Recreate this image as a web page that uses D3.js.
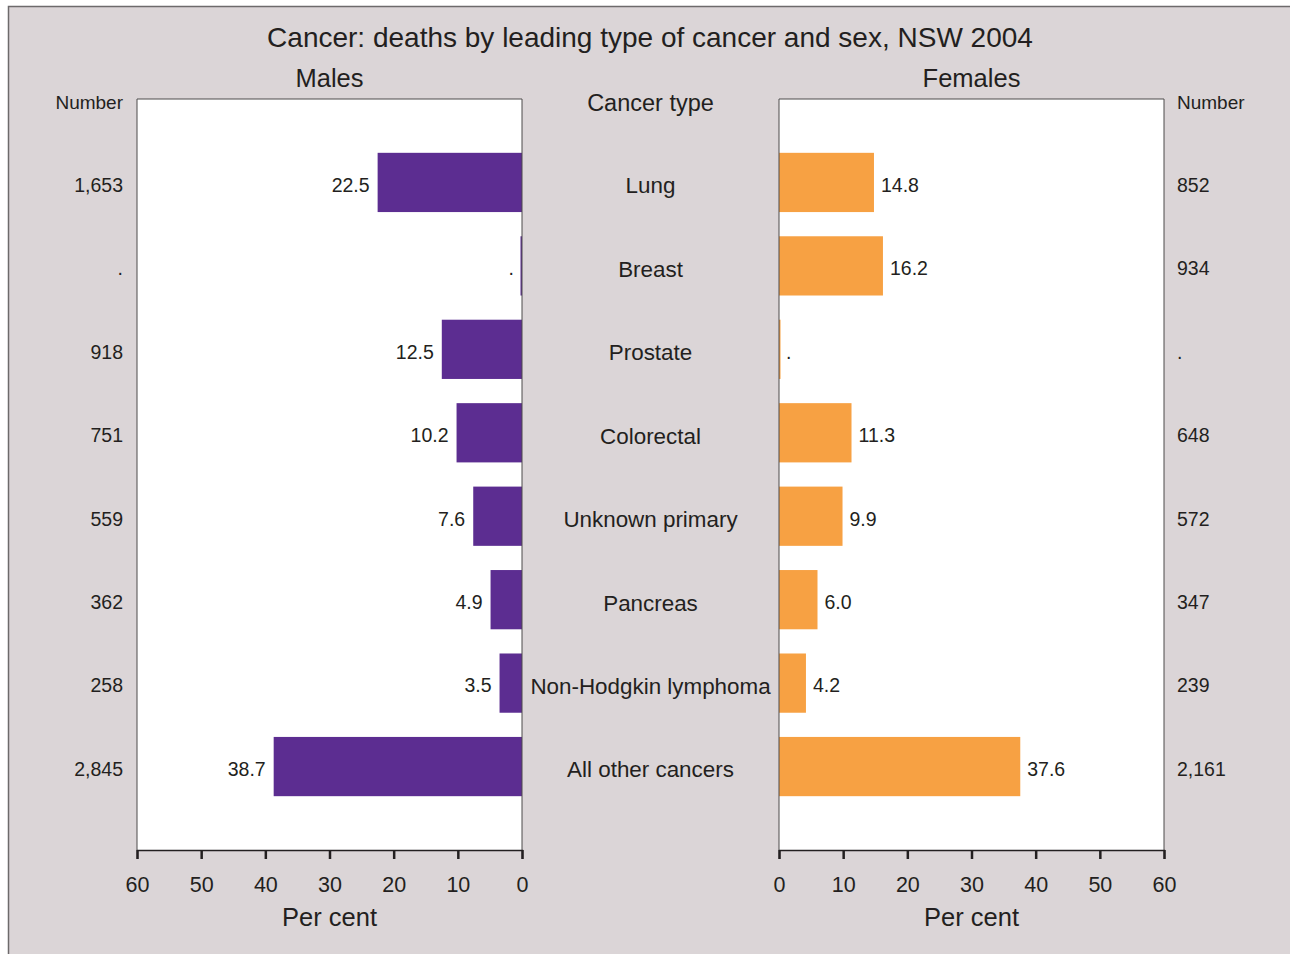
<!DOCTYPE html>
<html>
<head>
<meta charset="utf-8">
<script src="https://cdn.jsdelivr.net/npm/d3@7"></script>
<style>
  html, body { margin: 0; padding: 0; background: #ffffff; }
  svg { display: block; font-family: "Liberation Sans", Arial, Helvetica, sans-serif; }
</style>
</head>
<body>
<svg id="chart" width="1290" height="954"></svg>
<script>
// Leading cancer types, NSW 2004
const categories = ["Lung", "Breast", "Prostate", "Colorectal", "Unknown primary", "Pancreas", "Non-Hodgkin lymphoma", "All other cancers"];
const malePercent = [22.5, null, 12.5, 10.2, 7.6, 4.9, 3.5, 38.7];
const femalePercent = [14.8, 16.2, null, 11.3, 9.9, 6.0, 4.2, 37.6];
const maleNumber = ["1,653", ".", "918", "751", "559", "362", "258", "2,845"];
const femaleNumber = ["852", "934", ".", "648", "572", "347", "239", "2,161"];
const tickValues = [0, 10, 20, 30, 40, 50, 60];

const svg = d3.select("#chart");
const textColor = "#231f20";
const maleColor = "#5c2d91";
const femaleColor = "#f7a143";

// panel background with frame
svg.append("rect")
  .attr("x", 8.5).attr("y", 6.5).attr("width", 1290).attr("height", 960)
  .attr("fill", "#dbd5d7").attr("stroke", "#6d6a6b").attr("stroke-width", 1.5);

const plotTop = 99, plotBottom = 850;
const y = d3.scalePoint().domain(categories).range([plotTop, plotBottom]).padding(1);
const barH = y.step() * 0.71;

const xMale = d3.scaleLinear().domain([0, 60]).range([522, 137]);
const xFemale = d3.scaleLinear().domain([0, 60]).range([779, 1164]);

function fmt(v) { return v == null ? "." : d3.format(".1f")(v); }

function drawPanel(x, values, numbers, color, side) {
  const [r0, r1] = x.range();
  const left = Math.min(r0, r1), right = Math.max(r0, r1);
  const g = svg.append("g");

  g.append("rect").attr("x", left).attr("y", plotTop)
    .attr("width", right - left).attr("height", plotBottom - plotTop)
    .attr("fill", "#ffffff");

  // bars
  g.selectAll("rect.bar").data(values).join("rect")
    .attr("class", "bar")
    .attr("x", d => d == null ? (side === "left" ? x(0) - 1.5 : x(0)) : Math.min(x(0), x(d)))
    .attr("width", d => d == null ? 1.5 : Math.abs(x(d) - x(0)))
    .attr("y", (d, i) => y(categories[i]) - barH / 2)
    .attr("height", barH)
    .attr("fill", color);

  // frame: top and sides
  g.append("path")
    .attr("d", `M${left},${plotBottom}V${plotTop}H${right}V${plotBottom}`)
    .attr("fill", "none").attr("stroke", "#4d4a4b").attr("stroke-width", 1);

  // value labels
  g.selectAll("text.val").data(values).join("text")
    .attr("class", "val")
    .attr("x", d => side === "left" ? x(d == null ? 0 : d) - 8 : x(d == null ? 0 : d) + 7)
    .attr("y", (d, i) => y(categories[i]) + 2.5)
    .attr("dy", "0.35em")
    .attr("text-anchor", side === "left" ? "end" : "start")
    .attr("font-size", 19.5).attr("fill", textColor)
    .text(d => fmt(d));

  // number column
  g.selectAll("text.num").data(numbers).join("text")
    .attr("class", "num")
    .attr("x", side === "left" ? 123 : 1177)
    .attr("y", (d, i) => y(categories[i]) + 2.5)
    .attr("dy", "0.35em")
    .attr("text-anchor", side === "left" ? "end" : "start")
    .attr("font-size", 19.5).attr("fill", textColor)
    .text(d => d);

  g.append("text")
    .attr("x", side === "left" ? 123 : 1177).attr("y", 102)
    .attr("dy", "0.35em")
    .attr("text-anchor", side === "left" ? "end" : "start")
    .attr("font-size", 19).attr("fill", textColor)
    .text("Number");

  // axis
  const axis = g.append("g")
    .attr("transform", `translate(0,${plotBottom})`)
    .call(d3.axisBottom(x).tickValues(tickValues).tickSize(9).tickPadding(18));
  axis.select(".domain").attr("stroke", "#231f20").attr("stroke-width", 1.3);
  axis.selectAll(".tick line").attr("stroke", "#231f20").attr("stroke-width", 2.5);
  axis.selectAll(".tick text")
    .attr("font-size", 21.5).attr("fill", textColor)
    .attr("font-family", "Liberation Sans, Arial, sans-serif");

  g.append("text")
    .attr("x", (left + right) / 2).attr("y", 917)
    .attr("dy", "0.35em").attr("text-anchor", "middle")
    .attr("font-size", 25.5).attr("fill", textColor)
    .text("Per cent");

  g.append("text")
    .attr("x", (left + right) / 2).attr("y", 78)
    .attr("dy", "0.35em").attr("text-anchor", "middle")
    .attr("font-size", 25.5).attr("fill", textColor)
    .text(side === "left" ? "Males" : "Females");
}

drawPanel(xMale, malePercent, maleNumber, maleColor, "left");
drawPanel(xFemale, femalePercent, femaleNumber, femaleColor, "right");

// category labels in the middle
svg.append("g").selectAll("text").data(categories).join("text")
  .attr("x", 650.5).attr("y", d => y(d) + 3)
  .attr("dy", "0.35em").attr("text-anchor", "middle")
  .attr("font-size", 22.4).attr("fill", textColor)
  .text(d => d);

svg.append("text")
  .attr("x", 650.5).attr("y", 103)
  .attr("dy", "0.35em").attr("text-anchor", "middle")
  .attr("font-size", 23.5).attr("fill", textColor)
  .text("Cancer type");

svg.append("text")
  .attr("x", 650).attr("y", 37)
  .attr("dy", "0.35em").attr("text-anchor", "middle")
  .attr("font-size", 28).attr("fill", textColor)
  .text("Cancer: deaths by leading type of cancer and sex, NSW 2004");
</script>
</body>
</html>
